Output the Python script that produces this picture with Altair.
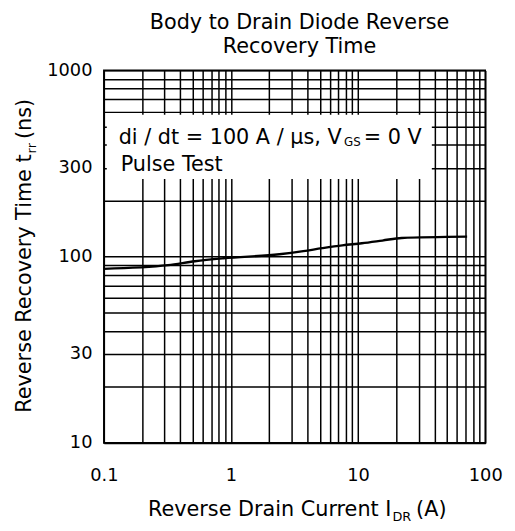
import altair as alt
import pandas as pd

# Data
i_dr = [0.1, 0.32, 0.52, 0.87, 2.4, 3.7, 5.2, 7.5, 10.7, 15.5, 22, 72]
t_rr = [86, 90, 94.5, 98, 103, 107, 111, 115, 118, 122, 126, 128]

x_ticks = [0.1, 1, 10, 100]
y_ticks = [10, 30, 100, 300, 1000]
x_grid = [m * d for d in [0.1, 1, 10] for m in range(1, 10)] + [100]
y_grid = [m * d for d in [10, 100] for m in range(1, 10)] + [1000]

# legend box (white, covers the grid)
box_x = [0.1055, 38]
box_y = [261, 577]

FONT = "DejaVu Sans"

df = pd.DataFrame({"I": i_dr, "T": t_rr})
box = pd.DataFrame({"x1": [box_x[0]], "x2": [box_x[1]], "y1": [box_y[0]], "y2": [box_y[1]]})

def lab_expr(vals):
    cond = " || ".join(f"datum.value == {v}" for v in vals)
    return f"({cond}) ? toString(datum.value) : ''"

xscale = alt.Scale(type="log", domain=[0.1, 100], nice=False)
yscale = alt.Scale(type="log", domain=[10, 1000], nice=False)
xax = alt.Axis(values=x_grid, labelExpr=lab_expr(x_ticks), title=None, ticks=False,
               domain=False, labelPadding=24, labelFlush=False, labelOverlap=False,
               labelFontSize=18, labelFont=FONT, labelColor="black", labelBound=False)
yax = alt.Axis(values=y_grid, labelExpr=lab_expr(y_ticks), title=None, ticks=False,
               domain=False, labelPadding=12, labelFlush=False, labelOverlap=False,
               labelFontSize=18, labelFont=FONT, labelColor="black", labelBound=False)

rect = alt.Chart(box).mark_rect(color="white", opacity=1).encode(
    x=alt.X("x1:Q", scale=xscale, axis=xax),
    x2="x2:Q",
    y=alt.Y("y1:Q", scale=yscale, axis=yax),
    y2="y2:Q",
)

line = alt.Chart(df).mark_line(color="black", strokeWidth=2.4, interpolate="monotone").encode(
    x=alt.X("I:Q", scale=xscale, axis=xax),
    y=alt.Y("T:Q", scale=yscale, axis=yax),
)

def txt(s, x, y, size=21, align="left", angle=0, dy=0):
    return alt.Chart(pd.DataFrame({"t": [s]})).mark_text(
        font=FONT, fontSize=size, align=align, baseline="alphabetic",
        angle=angle, dy=dy, color="black"
    ).encode(x=alt.value(x), y=alt.value(y), text="t:N")

texts = [
    # chart title
    txt("Body to Drain Diode Reverse", 198, -42, align="center"),
    txt("Recovery Time", 198, -18, align="center"),
    # x-axis title
    txt("Reverse Drain Current I", 291, 451, align="right"),
    txt("DR", 292, 451, size=13, dy=5),
    txt("(A)", 316, 451),
    # y-axis title (rotated)
    txt("Reverse Recovery Time t", -74, 85, align="right", angle=270),
    txt("rr", -74, 84, size=13, angle=270, dy=5),
    txt("(ns)", -74, 69.5, angle=270),
    # annotation box text
    txt("di / dt = 100 A / \u00b5s, V", 15, 74),
    txt("GS", 243, 74, size=12, dy=3),
    txt(" = 0 V", 263, 74),
    txt("Pulse Test", 17, 102),
]

chart = alt.layer(rect, line, *texts).properties(
    width=386, height=377,
    padding={"left": 97, "top": 60, "right": 22, "bottom": 84},
    autosize="none",
).configure_view(
    stroke="black", strokeWidth=1.6
).configure_axis(
    grid=True, gridColor="black", gridOpacity=1, gridWidth=1.5
)

chart.save("out.html", embed_options={"renderer": "svg", "actions": False})
